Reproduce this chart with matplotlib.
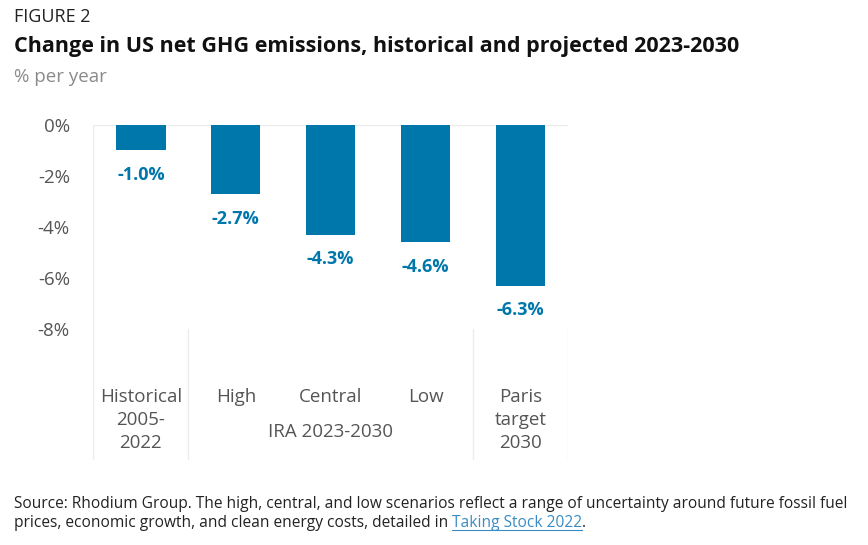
import matplotlib.pyplot as plt
import numpy as np

plt.rcParams['font.family'] = ['Open Sans', 'DejaVu Sans']

categories = ["Historical\n2005-\n2022", "High", "Central", "Low", "Paris\ntarget\n2030"]
values = [-1.0, -2.7, -4.3, -4.6, -6.3]
value_labels = ["-1.0%", "-2.7%", "-4.3%", "-4.6%", "-6.3%"]
yticks = [0, -2, -4, -6, -8]
ytick_labels = ["0%", "-2%", "-4%", "-6%", "-8%"]
group_label = "IRA 2023-2030"

bar_color = "#0077ab"
grid_color = "#ececec"
tick_color = "#555555"

fig = plt.figure(figsize=(8.68, 5.45), dpi=100)
ax = fig.add_axes([0.1077, 0.156, 0.5465, 0.6147])

x = np.arange(len(categories))
ax.bar(x, values, width=0.52, color=bar_color, zorder=3)

for xi, v, lab in zip(x, values, value_labels):
    ax.text(xi, v - 0.62, lab, ha="center", va="top", fontsize=13,
            fontweight="bold", color=bar_color)

ylow = -13.14
ax.set_xlim(-0.5, len(categories) - 0.5)
ax.set_ylim(ylow, 0)

# zero line and separators
ax.axhline(0, color=grid_color, lw=1, zorder=1)
ax.axvline(-0.5, color=grid_color, lw=1, zorder=1)
for sx in [0.5, 3.5, 4.5]:
    ax.plot([sx, sx], [-8, ylow], color=grid_color, lw=1, zorder=1)

ax.set_yticks(yticks)
ax.set_yticklabels(ytick_labels, fontsize=13.5, color=tick_color)
ax.tick_params(axis="y", length=0, pad=17)
ax.set_xticks([])
for s in ax.spines.values():
    s.set_visible(False)

# category labels
for xi, cat in zip(x, categories):
    ax.text(xi, -10.3, cat, ha="center", va="top", fontsize=13.5,
            color=tick_color, linespacing=1.36)
ax.text(2, -12.05, group_label, ha="center", va="center", fontsize=13.5,
        color=tick_color)

fig.text(0.016, 0.968, "FIGURE 2", fontsize=13, color="#222222", va="center")
fig.text(0.016, 0.914, "Change in US net GHG emissions, historical and projected 2023-2030",
         fontsize=15.5, fontweight="bold", color="#111111", va="center")
fig.text(0.016, 0.858, "% per year", fontsize=13.5, color="#8a8a8a", va="center")

fs = 11.2
fig.text(0.016, 0.076, "Source: Rhodium Group. The high, central, and low scenarios reflect a range "
         "of uncertainty around future fossil fuel", fontsize=fs, color="#222222", va="center")
t1 = fig.text(0.016, 0.040, "prices, economic growth, and clean energy costs, detailed in ",
              fontsize=fs, color="#222222", va="center")

# place link and full stop right after the text
fig.canvas.draw()
r = fig.canvas.get_renderer()
inv = fig.transFigure.inverted()
bb = t1.get_window_extent(r)
x1 = inv.transform((bb.x1, bb.y0))[0]
t2 = fig.text(x1, 0.040, "Taking Stock 2022", fontsize=fs, color="#3a8cc4", va="center")
bb2 = t2.get_window_extent(r)
x2 = inv.transform((bb2.x1, bb2.y0))[0]
fig.text(x2, 0.040, ".", fontsize=fs, color="#222222", va="center")
yu = inv.transform((0, bb2.y0 + 1))[1]
fig.add_artist(plt.Line2D([x1, x2], [yu, yu], color="#3a8cc4", lw=0.8,
                          transform=fig.transFigure))

fig.savefig("out.png", dpi=100)
